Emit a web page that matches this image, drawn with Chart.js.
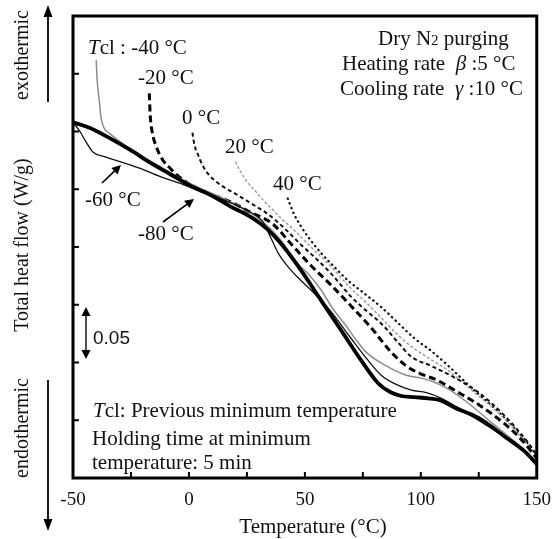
<!DOCTYPE html>
<html><head><meta charset="utf-8">
<script src="https://cdn.jsdelivr.net/npm/chart.js@4.4.0/dist/chart.umd.min.js"></script>
<style>html,body{margin:0;padding:0;background:#fff}#wrap{width:554px;height:539px}</style>
</head><body><div id="wrap"><canvas id="c" width="554" height="539"></canvas></div>
<script>
// ---- data (Temperature °C, relative total heat flow W/g) ----
const xTickLabels = [-50, 0, 50, 100, 150];
const tempM80 = [-50,-42.6,-34.0,-25.3,-16.7,-8.0,0.6,9.3,18.0,26.6,34.0,40.9,48.3,56.9,65.6,74.2,81.6,87.2,91.6,97.2,103.2,108.9,114.5,124.9,136.1,144.8,150];
const flowM80 = [0.308,0.303,0.294,0.284,0.273,0.263,0.253,0.245,0.235,0.226,0.215,0.200,0.180,0.154,0.128,0.102,0.082,0.074,0.071,0.070,0.069,0.067,0.061,0.052,0.036,0.023,0.012];
const tempM60 = [-50,-47.0,-44.4,-41.3,-36.1,-29.7,-21.0,-12.3,-3.7,5.0,13.6,24.5,31.8,35.3,38.7,43.1,48.3,53.5,61.3,69.9,76.4,82.9,89.4,95.9,102.4,108.9,117.5,130.5,141.3,150];
const flowM60 = [0.308,0.300,0.291,0.282,0.278,0.274,0.268,0.261,0.255,0.248,0.242,0.232,0.222,0.208,0.194,0.182,0.171,0.161,0.144,0.121,0.104,0.089,0.081,0.076,0.074,0.069,0.059,0.043,0.029,0.014];
const tempM40 = [-40.0,-39.6,-38.7,-37.9,-36.6,-34.0,-27.5,-18.8,-10.2,-1.5,7.1,15.8,24.5,31.8,39.6,46.1,51.3,56.9,62.6,67.7,71.2,76.4,85.1,93.7,98.9,104.5,111.0,119.7,130.5,141.3,150];
const flowM40 = [0.362,0.345,0.327,0.312,0.303,0.298,0.288,0.277,0.267,0.257,0.249,0.241,0.232,0.222,0.206,0.187,0.177,0.163,0.145,0.132,0.122,0.109,0.097,0.089,0.087,0.084,0.078,0.066,0.048,0.030,0.014];
const tempM20 = [-17.1,-16.7,-15.8,-14.1,-11.5,-8.0,-3.7,1.5,9.3,18.0,26.6,36.1,43.9,52.6,61.3,69.9,78.6,87.2,93.7,100.2,106.7,115.4,125.3,136.1,143.5,150];
const flowM20 = [0.333,0.314,0.299,0.287,0.276,0.268,0.260,0.253,0.246,0.239,0.230,0.220,0.203,0.184,0.167,0.149,0.130,0.109,0.097,0.090,0.085,0.075,0.063,0.047,0.033,0.017];
const temp0 = [1.5,2.4,3.7,5.8,8.4,11.5,14.9,20.1,26.6,34.4,41.8,48.3,54.8,61.3,69.9,76.4,83.8,90.3,95.9,104.5,114.5,124.9,136.1,146.5,150];
const flow0 = [0.299,0.288,0.281,0.271,0.263,0.257,0.252,0.246,0.238,0.228,0.215,0.202,0.190,0.177,0.157,0.145,0.132,0.117,0.105,0.097,0.087,0.074,0.054,0.030,0.020];
const temp20 = [20.1,22.3,25.3,28.8,31.8,35.3,39.6,45.2,52.6,61.3,69.9,76.4,84.2,91.6,97.2,103.2,111.9,121.9,133.6,144.8,150];
const flow20 = [0.274,0.265,0.256,0.248,0.241,0.234,0.225,0.215,0.200,0.183,0.164,0.152,0.136,0.121,0.112,0.104,0.093,0.076,0.056,0.032,0.018];
const temp40 = [42.6,44.0,45.2,48.3,51.3,56.9,62.6,68.6,75.5,82.9,90.3,97.2,104.5,111.9,121.9,133.6,144.8,150];
const flow40 = [0.242,0.235,0.229,0.218,0.209,0.195,0.183,0.171,0.160,0.148,0.134,0.121,0.110,0.097,0.078,0.057,0.033,0.019];

const SERIF = "'Liberation Serif', 'Times New Roman', serif";
const pts = (t, f) => t.map((v, i) => ({x: v, y: f[i]}));
const base = {pointRadius: 0, fill: false, cubicInterpolationMode: 'monotone', borderJoinStyle: 'round'};

const datasets = [
  Object.assign({}, base, {label: '-80 °C', data: pts(tempM80, flowM80), borderColor: '#000', borderWidth: 3.8}),
  Object.assign({}, base, {label: '-60 °C', data: pts(tempM60, flowM60), borderColor: '#111', borderWidth: 1.3}),
  Object.assign({}, base, {label: '-40 °C', data: pts(tempM40, flowM40), borderColor: '#8c8c8c', borderWidth: 1.5}),
  Object.assign({}, base, {label: '-20 °C', data: pts(tempM20, flowM20), borderColor: '#000', borderWidth: 3, borderDash: [7, 4]}),
  Object.assign({}, base, {label: '0 °C', data: pts(temp0, flow0), borderColor: '#111', borderWidth: 2, borderDash: [4, 3]}),
  Object.assign({}, base, {label: '20 °C', data: pts(temp20, flow20), borderColor: '#9a9a9a', borderWidth: 1.4, borderDash: [3, 2]}),
  Object.assign({}, base, {label: '40 °C', data: pts(temp40, flow40), borderColor: '#111', borderWidth: 2.2, borderDash: [0.5, 4.5], borderCapStyle: 'round'})
];

function arrow(ctx, x1, y1, x2, y2, hl, hw, lw) {
  const a = Math.atan2(y2 - y1, x2 - x1);
  ctx.save();
  ctx.lineWidth = lw; ctx.strokeStyle = '#000'; ctx.fillStyle = '#000';
  ctx.beginPath(); ctx.moveTo(x1, y1);
  ctx.lineTo(x2 - Math.cos(a) * hl * 0.8, y2 - Math.sin(a) * hl * 0.8); ctx.stroke();
  ctx.beginPath(); ctx.moveTo(x2, y2);
  ctx.lineTo(x2 - Math.cos(a) * hl + Math.sin(a) * hw, y2 - Math.sin(a) * hl - Math.cos(a) * hw);
  ctx.lineTo(x2 - Math.cos(a) * hl - Math.sin(a) * hw, y2 - Math.sin(a) * hl + Math.cos(a) * hw);
  ctx.closePath(); ctx.fill();
  ctx.restore();
}
function rich(ctx, parts, x, y, size) {
  let cx = x;
  parts.forEach(p => {
    const s = p.size || size;
    ctx.font = (p.italic ? 'italic ' : '') + s + 'px ' + SERIF;
    ctx.fillText(p.t, cx, y + (p.dy || 0));
    cx += ctx.measureText(p.t).width;
  });
}

const annot = {
  id: 'annot',
  afterDraw(chart) {
    const ctx = chart.ctx, a = chart.chartArea;
    const xs = chart.scales.x, ys = chart.scales.y;
    ctx.save();
    // frame
    ctx.strokeStyle = '#000'; ctx.lineWidth = 3;
    ctx.strokeRect(a.left, a.top, a.right - a.left, a.bottom - a.top);
    // inward ticks
    ctx.lineWidth = 2;
    xs.ticks.forEach(t => {
      if (t.value <= -50 || t.value >= 150) return;
      const px = xs.getPixelForValue(t.value);
      ctx.beginPath(); ctx.moveTo(px, a.bottom); ctx.lineTo(px, a.bottom - 6); ctx.stroke();
    });
    ys.ticks.forEach(t => {
      if (t.value <= 0 || t.value >= 0.4) return;
      const py = ys.getPixelForValue(t.value);
      ctx.beginPath(); ctx.moveTo(a.left, py); ctx.lineTo(a.left + 6, py); ctx.stroke();
    });
    ctx.fillStyle = '#111'; ctx.textBaseline = 'alphabetic'; ctx.textAlign = 'left';
    const F = 21;
    rich(ctx, [{t: 'T', italic: true}, {t: 'cl : -40 °C'}], 88, 54, F);
    rich(ctx, [{t: '-20 °C'}], 138, 84, F);
    rich(ctx, [{t: '0 °C'}], 182, 124, F);
    rich(ctx, [{t: '20 °C'}], 225, 153, F);
    rich(ctx, [{t: '40 °C'}], 273, 190, F);
    rich(ctx, [{t: '-60 °C'}], 85, 206, F);
    rich(ctx, [{t: '-80 °C'}], 138, 240, F);
    rich(ctx, [{t: 'Dry N'}, {t: '2', size: 15}, {t: ' purging'}], 378, 45, F);
    rich(ctx, [{t: 'Heating rate  '}, {t: 'β', italic: true}, {t: ' :5 °C'}], 342, 70, F);
    rich(ctx, [{t: 'Cooling rate  '}, {t: 'γ', italic: true}, {t: ' :10 °C'}], 340, 95, F);
    rich(ctx, [{t: 'T', italic: true}, {t: 'cl: Previous minimum temperature'}], 93, 417, F);
    rich(ctx, [{t: 'Holding time at minimum'}], 92, 445, F);
    rich(ctx, [{t: 'temperature: 5 min'}], 92, 469, F);
    ctx.font = "19px 'Liberation Sans', Arial, sans-serif";
    ctx.fillText('0.05', 93, 344);
    // x axis title
    ctx.textAlign = 'center'; ctx.font = F + 'px ' + SERIF;
    ctx.fillText('Temperature (°C)', 313, 533);
    ctx.textAlign = 'left';
    // arrows
    arrow(ctx, 102, 183, 121, 165, 9, 4.5, 1.6);
    arrow(ctx, 163, 222, 194, 199, 9, 4.5, 1.6);
    arrow(ctx, 86, 333, 86, 307, 9, 4.5, 1.4);
    arrow(ctx, 86, 333, 86, 359, 9, 4.5, 1.4);
    arrow(ctx, 48, 102, 48, 5, 12, 4.5, 1.8);
    arrow(ctx, 48, 380, 48, 531, 12, 4.5, 1.8);
    // rotated y labels
    ctx.textAlign = 'center'; ctx.font = '20px ' + SERIF;
    [['exothermic', 55], ['Total heat flow (W/g)', 245], ['endothermic', 428]].forEach(([s, cy]) => {
      ctx.save(); ctx.translate(28, cy); ctx.rotate(-Math.PI / 2); ctx.fillText(s, 0, 0); ctx.restore();
    });
    ctx.restore();
  }
};

new Chart(document.getElementById('c'), {
  type: 'line',
  data: {datasets},
  options: {
    responsive: false, animation: false, parsing: true,
    layout: {padding: {left: 0, right: 11, top: 16, bottom: 0}},
    plugins: {legend: {display: false}, tooltip: {enabled: false}},
    scales: {
      x: {
        type: 'linear', min: -50, max: 150,
        grid: {display: false}, border: {display: false},
        ticks: {stepSize: 25, autoSkip: false, maxRotation: 0, padding: 3, color: '#111',
          font: {family: SERIF, size: 19},
          callback: v => xTickLabels.includes(v) ? String(v) : ''},
        title: {display: false},
        afterFit: s => { s.height = 61; }
      },
      y: {
        type: 'linear', min: 0, max: 0.4,
        grid: {display: false}, border: {display: false},
        ticks: {display: false, stepSize: 0.05},
        afterFit: s => { s.width = 73; }
      }
    }
  },
  plugins: [annot]
});
</script>
</body></html>
